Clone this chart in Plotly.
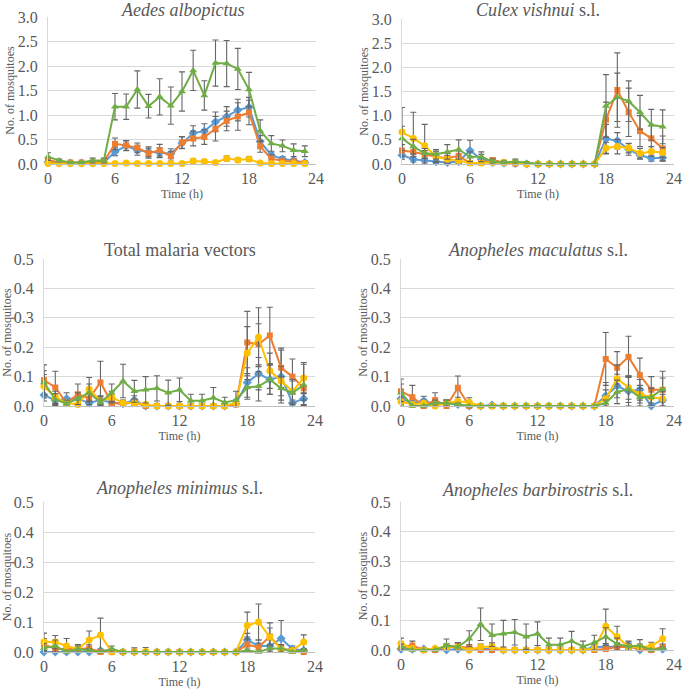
import plotly.graph_objects as go

hours = list(range(24))

titles = ["<i>Aedes albopictus</i>", "<i>Culex vishnui</i> s.l.",
          "Total malaria vectors", "<i>Anopheles maculatus</i> s.l.",
          "<i>Anopheles minimus</i> s.l.", "<i>Anopheles barbirostris</i> s.l."]

# series order: blue, orange, yellow, green
# --- Aedes albopictus
aed_blue = [0.04, 0.02, 0.02, 0.02, 0.02, 0.03, 0.25, 0.37, 0.28, 0.25, 0.23, 0.21, 0.43, 0.63, 0.67, 0.86, 0.97, 1.10, 1.16, 0.46, 0.18, 0.10, 0.07, 0.03]
aed_blue_err = [0.03, 0.02, 0.02, 0.02, 0.02, 0.03, 0.08, 0.10, 0.10, 0.10, 0.10, 0.10, 0.12, 0.15, 0.15, 0.20, 0.20, 0.22, 0.20, 0.12, 0.06, 0.05, 0.04, 0.03]
aed_orange = [0.08, 0.03, 0.03, 0.03, 0.03, 0.05, 0.41, 0.38, 0.33, 0.22, 0.28, 0.16, 0.44, 0.52, 0.55, 0.72, 0.88, 0.97, 1.05, 0.36, 0.11, 0.06, 0.05, 0.02]
aed_orange_err = [0.05, 0.03, 0.02, 0.02, 0.03, 0.04, 0.12, 0.10, 0.10, 0.10, 0.12, 0.10, 0.12, 0.15, 0.15, 0.25, 0.20, 0.28, 0.25, 0.12, 0.08, 0.05, 0.04, 0.02]
aed_yellow = [0.01, 0.01, 0.01, 0.01, 0.01, 0.01, 0.01, 0.02, 0.01, 0.01, 0.01, 0.01, 0.01, 0.06, 0.05, 0.03, 0.11, 0.08, 0.10, 0.02, 0.01, 0.01, 0.01, 0.01]
aed_yellow_err = [0.01, 0.01, 0.01, 0.01, 0.01, 0.01, 0.01, 0.02, 0.01, 0.01, 0.01, 0.01, 0.01, 0.04, 0.03, 0.03, 0.05, 0.04, 0.05, 0.02, 0.01, 0.01, 0.01, 0.01]
aed_green = [0.15, 0.07, 0.03, 0.03, 0.07, 0.07, 1.17, 1.17, 1.52, 1.18, 1.37, 1.19, 1.48, 1.91, 1.40, 2.06, 2.05, 1.94, 1.52, 0.68, 0.42, 0.37, 0.28, 0.26]
aed_green_err = [0.08, 0.03, 0.02, 0.02, 0.05, 0.05, 0.27, 0.26, 0.38, 0.24, 0.37, 0.38, 0.40, 0.41, 0.30, 0.47, 0.47, 0.42, 0.35, 0.22, 0.16, 0.12, 0.13, 0.11]

# --- Culex vishnui
cul_blue = [0.18, 0.10, 0.07, 0.05, 0.03, 0.05, 0.28, 0.10, 0.03, 0.02, 0.01, 0.0, 0.0, 0.0, 0.0, 0.0, 0.0, 0.0, 0.52, 0.48, 0.30, 0.18, 0.12, 0.13]
cul_blue_err = [0.08, 0.06, 0.05, 0.04, 0.03, 0.04, 0.21, 0.10, 0.03, 0.02, 0.01, 0.0, 0.0, 0.0, 0.0, 0.0, 0.0, 0.0, 0.30, 0.17, 0.12, 0.08, 0.06, 0.06]
cul_orange = [0.28, 0.25, 0.20, 0.15, 0.12, 0.17, 0.02, 0.02, 0.08, 0.03, 0.01, 0.0, 0.0, 0.0, 0.0, 0.0, 0.0, 0.0, 0.92, 1.53, 1.07, 0.68, 0.53, 0.32]
cul_orange_err = [0.12, 0.10, 0.08, 0.10, 0.10, 0.10, 0.02, 0.02, 0.05, 0.03, 0.01, 0.0, 0.0, 0.0, 0.0, 0.0, 0.0, 0.0, 0.36, 0.77, 0.50, 0.32, 0.26, 0.26]
cul_yellow = [0.66, 0.53, 0.38, 0.15, 0.10, 0.07, 0.02, 0.02, 0.03, 0.03, 0.03, 0.0, 0.0, 0.0, 0.0, 0.0, 0.0, 0.0, 0.33, 0.36, 0.33, 0.22, 0.26, 0.24]
cul_yellow_err = [0.51, 0.54, 0.44, 0.12, 0.08, 0.05, 0.02, 0.02, 0.03, 0.03, 0.03, 0.0, 0.0, 0.0, 0.0, 0.0, 0.0, 0.0, 0.12, 0.15, 0.10, 0.10, 0.10, 0.10]
cul_green = [0.53, 0.36, 0.22, 0.20, 0.25, 0.30, 0.15, 0.15, 0.05, 0.03, 0.05, 0.02, 0.0, 0.0, 0.0, 0.0, 0.0, 0.0, 1.20, 1.38, 1.30, 1.07, 0.81, 0.77]
cul_green_err = [0.25, 0.15, 0.10, 0.10, 0.15, 0.20, 0.10, 0.10, 0.05, 0.03, 0.05, 0.02, 0.0, 0.0, 0.0, 0.0, 0.0, 0.0, 0.65, 0.50, 0.42, 0.35, 0.32, 0.35]

# --- Total malaria vectors
tot_blue = [0.037, 0.020, 0.025, 0.025, 0.010, 0.020, 0.012, 0.008, 0.020, 0.0, 0.0, 0.0, 0.0, 0.0, 0.0, 0.0, 0.0, 0.008, 0.080, 0.110, 0.090, 0.100, 0.010, 0.025]
tot_blue_err = [0.02, 0.015, 0.02, 0.015, 0.01, 0.015, 0.01, 0.008, 0.015, 0.0, 0.0, 0.0, 0.0, 0.0, 0.0, 0.0, 0.0, 0.008, 0.05, 0.055, 0.05, 0.09, 0.01, 0.02]
tot_orange = [0.088, 0.063, 0.010, 0.040, 0.025, 0.080, 0.010, 0.008, 0.012, 0.0, 0.0, 0.0, 0.0, 0.0, 0.0, 0.0, 0.0, 0.005, 0.216, 0.210, 0.240, 0.130, 0.100, 0.060]
tot_orange_err = [0.052, 0.055, 0.01, 0.035, 0.02, 0.072, 0.01, 0.008, 0.012, 0.0, 0.0, 0.0, 0.0, 0.0, 0.0, 0.0, 0.0, 0.005, 0.106, 0.070, 0.096, 0.067, 0.060, 0.04]
tot_yellow = [0.067, 0.030, 0.010, 0.005, 0.057, 0.017, 0.030, 0.010, 0.010, 0.005, 0.0, 0.0, 0.0, 0.0, 0.0, 0.0, 0.0, 0.010, 0.180, 0.234, 0.120, 0.085, 0.050, 0.095]
tot_yellow_err = [0.04, 0.02, 0.01, 0.005, 0.04, 0.015, 0.02, 0.01, 0.01, 0.005, 0.0, 0.0, 0.0, 0.0, 0.0, 0.0, 0.0, 0.01, 0.09, 0.10, 0.06, 0.05, 0.04, 0.053]
tot_green = [0.080, 0.022, 0.008, 0.025, 0.045, 0.012, 0.045, 0.085, 0.050, 0.055, 0.060, 0.045, 0.055, 0.018, 0.018, 0.028, 0.012, 0.020, 0.063, 0.067, 0.090, 0.060, 0.045, 0.072]
tot_green_err = [0.04, 0.02, 0.01, 0.02, 0.03, 0.012, 0.03, 0.057, 0.037, 0.045, 0.043, 0.043, 0.040, 0.022, 0.022, 0.035, 0.018, 0.03, 0.04, 0.05, 0.05, 0.04, 0.04, 0.07]

# --- Anopheles maculatus
mac_blue = [0.025, 0.010, 0.018, 0.005, 0.010, 0.005, 0.0, 0.0, 0.003, 0.0, 0.0, 0.0, 0.0, 0.0, 0.0, 0.0, 0.0, 0.0, 0.035, 0.068, 0.050, 0.055, 0.0, 0.020]
mac_blue_err = [0.02, 0.01, 0.015, 0.005, 0.01, 0.005, 0.0, 0.0, 0.003, 0.0, 0.0, 0.0, 0.0, 0.0, 0.0, 0.0, 0.0, 0.0, 0.045, 0.04, 0.05, 0.035, 0.0, 0.02]
mac_orange = [0.050, 0.030, 0.0, 0.020, 0.0, 0.062, 0.0, 0.0, 0.0, 0.0, 0.0, 0.0, 0.0, 0.0, 0.0, 0.0, 0.0, 0.0, 0.160, 0.130, 0.167, 0.105, 0.055, 0.055]
mac_orange_err = [0.042, 0.040, 0.0, 0.025, 0.0, 0.040, 0.0, 0.0, 0.0, 0.0, 0.0, 0.0, 0.0, 0.0, 0.0, 0.0, 0.0, 0.0, 0.090, 0.055, 0.070, 0.058, 0.045, 0.04]
mac_yellow = [0.015, 0.005, 0.010, 0.0, 0.010, 0.015, 0.013, 0.0, 0.0, 0.0, 0.0, 0.0, 0.0, 0.0, 0.0, 0.0, 0.0, 0.0, 0.025, 0.093, 0.063, 0.040, 0.030, 0.025]
mac_yellow_err = [0.015, 0.005, 0.01, 0.0, 0.01, 0.015, 0.015, 0.0, 0.0, 0.0, 0.0, 0.0, 0.0, 0.0, 0.0, 0.0, 0.0, 0.0, 0.03, 0.047, 0.04, 0.03, 0.03, 0.025]
mac_green = [0.045, 0.0, 0.0, 0.010, 0.010, 0.005, 0.0, 0.0, 0.0, 0.0, 0.0, 0.0, 0.0, 0.0, 0.0, 0.0, 0.0, 0.0, 0.010, 0.048, 0.057, 0.030, 0.030, 0.058]
mac_green_err = [0.03, 0.0, 0.0, 0.01, 0.01, 0.005, 0.0, 0.0, 0.0, 0.0, 0.0, 0.0, 0.0, 0.0, 0.0, 0.0, 0.0, 0.0, 0.01, 0.04, 0.045, 0.03, 0.03, 0.06]

# --- Anopheles minimus
min_blue = [0.0, 0.0, 0.0, 0.0, 0.0, 0.005, 0.005, 0.0, 0.0, 0.0, 0.0, 0.0, 0.0, 0.0, 0.0, 0.0, 0.0, 0.0, 0.040, 0.020, 0.020, 0.045, 0.010, 0.005]
min_blue_err = [0.0, 0.0, 0.0, 0.0, 0.0, 0.005, 0.005, 0.0, 0.0, 0.0, 0.0, 0.0, 0.0, 0.0, 0.0, 0.0, 0.0, 0.0, 0.022, 0.02, 0.02, 0.06, 0.01, 0.005]
min_orange = [0.025, 0.010, 0.010, 0.010, 0.012, 0.0, 0.0, 0.0, 0.002, 0.0, 0.0, 0.0, 0.0, 0.0, 0.0, 0.0, 0.0, 0.0, 0.025, 0.015, 0.052, 0.012, 0.005, 0.0]
min_orange_err = [0.02, 0.01, 0.01, 0.01, 0.012, 0.0, 0.0, 0.0, 0.012, 0.0, 0.0, 0.0, 0.0, 0.0, 0.0, 0.0, 0.0, 0.0, 0.025, 0.015, 0.045, 0.012, 0.005, 0.0]
min_yellow = [0.033, 0.033, 0.020, 0.010, 0.040, 0.057, 0.0, 0.0, 0.0, 0.002, 0.0, 0.0, 0.0, 0.0, 0.0, 0.0, 0.0, 0.0, 0.088, 0.100, 0.050, 0.010, 0.005, 0.033]
min_yellow_err = [0.03, 0.022, 0.025, 0.015, 0.03, 0.056, 0.0, 0.0, 0.0, 0.013, 0.0, 0.0, 0.0, 0.0, 0.0, 0.0, 0.0, 0.0, 0.045, 0.060, 0.03, 0.01, 0.01, 0.024]
min_green = [0.013, 0.020, 0.0, 0.010, 0.005, 0.0, 0.010, 0.0, 0.0, 0.0, 0.0, 0.0, 0.0, 0.0, 0.0, 0.0, 0.0, 0.0, 0.005, 0.0, 0.012, 0.012, 0.0, 0.005]
min_green_err = [0.015, 0.02, 0.0, 0.01, 0.005, 0.0, 0.01, 0.0, 0.0, 0.0, 0.0, 0.0, 0.0, 0.0, 0.0, 0.0, 0.0, 0.0, 0.005, 0.0, 0.012, 0.012, 0.0, 0.005]

# --- Anopheles barbirostris
bar_blue = [0.003, 0.003, 0.003, 0.003, 0.0, 0.003, 0.003, 0.003, 0.003, 0.0, 0.0, 0.0, 0.0, 0.0, 0.0, 0.0, 0.0, 0.010, 0.010, 0.012, 0.015, 0.0, 0.003, 0.003]
bar_blue_err = [0.005, 0.005, 0.005, 0.005, 0.0, 0.005, 0.005, 0.005, 0.005, 0.0, 0.0, 0.0, 0.0, 0.0, 0.0, 0.0, 0.0, 0.01, 0.01, 0.012, 0.015, 0.0, 0.005, 0.005]
bar_orange = [0.010, 0.015, 0.0, 0.0, 0.010, 0.012, 0.008, 0.0, 0.0, 0.0, 0.0, 0.0, 0.0, 0.0, 0.0, 0.0, 0.0, 0.0, 0.003, 0.010, 0.010, 0.005, 0.0, 0.010]
bar_orange_err = [0.015, 0.015, 0.0, 0.0, 0.01, 0.012, 0.01, 0.0, 0.0, 0.0, 0.0, 0.0, 0.0, 0.0, 0.0, 0.0, 0.0, 0.0, 0.005, 0.01, 0.01, 0.005, 0.0, 0.01]
bar_yellow = [0.022, 0.005, 0.0, 0.005, 0.010, 0.012, 0.0, 0.010, 0.012, 0.0, 0.0, 0.0, 0.0, 0.0, 0.0, 0.0, 0.0, 0.005, 0.080, 0.045, 0.010, 0.010, 0.013, 0.038]
bar_yellow_err = [0.018, 0.005, 0.0, 0.005, 0.01, 0.012, 0.0, 0.01, 0.012, 0.0, 0.0, 0.0, 0.0, 0.0, 0.0, 0.0, 0.0, 0.005, 0.058, 0.035, 0.01, 0.01, 0.013, 0.034]
bar_green = [0.010, 0.0, 0.0, 0.0, 0.015, 0.010, 0.038, 0.087, 0.050, 0.055, 0.060, 0.045, 0.055, 0.018, 0.018, 0.030, 0.012, 0.025, 0.045, 0.020, 0.012, 0.015, 0.0, 0.005]
bar_green_err = [0.01, 0.0, 0.0, 0.0, 0.022, 0.015, 0.027, 0.055, 0.038, 0.045, 0.043, 0.043, 0.040, 0.022, 0.022, 0.033, 0.018, 0.025, 0.03, 0.02, 0.015, 0.02, 0.0, 0.005]

panels = [
    [(aed_blue, aed_blue_err), (aed_orange, aed_orange_err), (aed_yellow, aed_yellow_err), (aed_green, aed_green_err)],
    [(cul_blue, cul_blue_err), (cul_orange, cul_orange_err), (cul_yellow, cul_yellow_err), (cul_green, cul_green_err)],
    [(tot_blue, tot_blue_err), (tot_orange, tot_orange_err), (tot_yellow, tot_yellow_err), (tot_green, tot_green_err)],
    [(mac_blue, mac_blue_err), (mac_orange, mac_orange_err), (mac_yellow, mac_yellow_err), (mac_green, mac_green_err)],
    [(min_blue, min_blue_err), (min_orange, min_orange_err), (min_yellow, min_yellow_err), (min_green, min_green_err)],
    [(bar_blue, bar_blue_err), (bar_orange, bar_orange_err), (bar_yellow, bar_yellow_err), (bar_green, bar_green_err)],
]

colors = ["#5B9BD5", "#ED7D31", "#FFC000", "#70AD47"]
symbols = ["diamond", "square", "circle", "triangle-up"]
msizes = [7, 6, 7, 7]

W, H = 683, 691
# pixel boxes of the plot areas: (left, right, top, bottom)
boxes = [(48, 316, 17, 164), (402, 674, 19, 164),
         (44, 315, 259, 406), (401, 674, 259, 406),
         (44, 315, 502, 652), (401, 674, 502, 650)]
title_y = [10, 10, 250, 250, 488, 490]
yranges = [[0, 3], [0, 3], [0, 0.5], [0, 0.5], [0, 0.5], [0, 0.5]]
ydticks = [0.5, 0.5, 0.1, 0.1, 0.1, 0.1]

txt = "#595959"
font = "Times New Roman, Liberation Serif, DejaVu Serif, serif"

fig = go.Figure()
layout = dict(width=W, height=H, margin=dict(l=0, r=0, t=0, b=0, autoexpand=False),
              plot_bgcolor="white", paper_bgcolor="white", showlegend=False,
              font=dict(family=font, color=txt))
annotations = []

for i, series in enumerate(panels):
    n = i + 1
    xa = "x" if n == 1 else f"x{n}"
    ya = "y" if n == 1 else f"y{n}"
    for k, (vals, errs) in enumerate(series):
        fig.add_trace(go.Scatter(
            x=hours, y=vals, xaxis=xa, yaxis=ya, mode="lines+markers",
            line=dict(color=colors[k], width=2),
            marker=dict(symbol=symbols[k], size=msizes[k], color=colors[k]),
            error_y=dict(type="data", array=errs, visible=True,
                         color="#666666", thickness=1.1, width=3),
            cliponaxis=False))
    l, r, t, b = boxes[i]
    xdom = [l / W, r / W]
    ydom = [1 - b / H, 1 - t / H]
    layout["xaxis" if n == 1 else f"xaxis{n}"] = dict(
        domain=xdom, range=[0, 24], tickvals=[0, 6, 12, 18, 24],
        showgrid=False, zeroline=False, showline=True, linecolor="#bfbfbf",
        ticks="", anchor=ya, automargin=False, ticklabeloverflow="allow",
        tickfont=dict(family=font, size=16, color=txt),
        title=dict(text="Time (h)", font=dict(family=font, size=12, color=txt), standoff=0))
    layout["yaxis" if n == 1 else f"yaxis{n}"] = dict(
        domain=ydom, range=yranges[i], dtick=ydticks[i], tickformat=".1f",
        showgrid=True, gridcolor="#d9d9d9", zeroline=False, showline=True,
        linecolor="#d9d9d9", ticks="", anchor=xa, automargin=False,
        ticklabelstandoff=6,
        tickfont=dict(family=font, size=16, color=txt),
        title=dict(text="No. of mosquitoes", font=dict(family=font, size=12, color=txt), standoff=0))
    annotations.append(dict(text=titles[i], x=(xdom[0] + xdom[1]) / 2,
                            y=1 - title_y[i] / H, xref="paper", yref="paper",
                            showarrow=False, xanchor="center", yanchor="middle",
                            font=dict(size=18, color=txt, family=font)))

layout["annotations"] = annotations
fig.update_layout(**layout)
fig.write_html("out.html", config={"displayModeBar": False},
               post_script="document.body.style.margin='0';")
